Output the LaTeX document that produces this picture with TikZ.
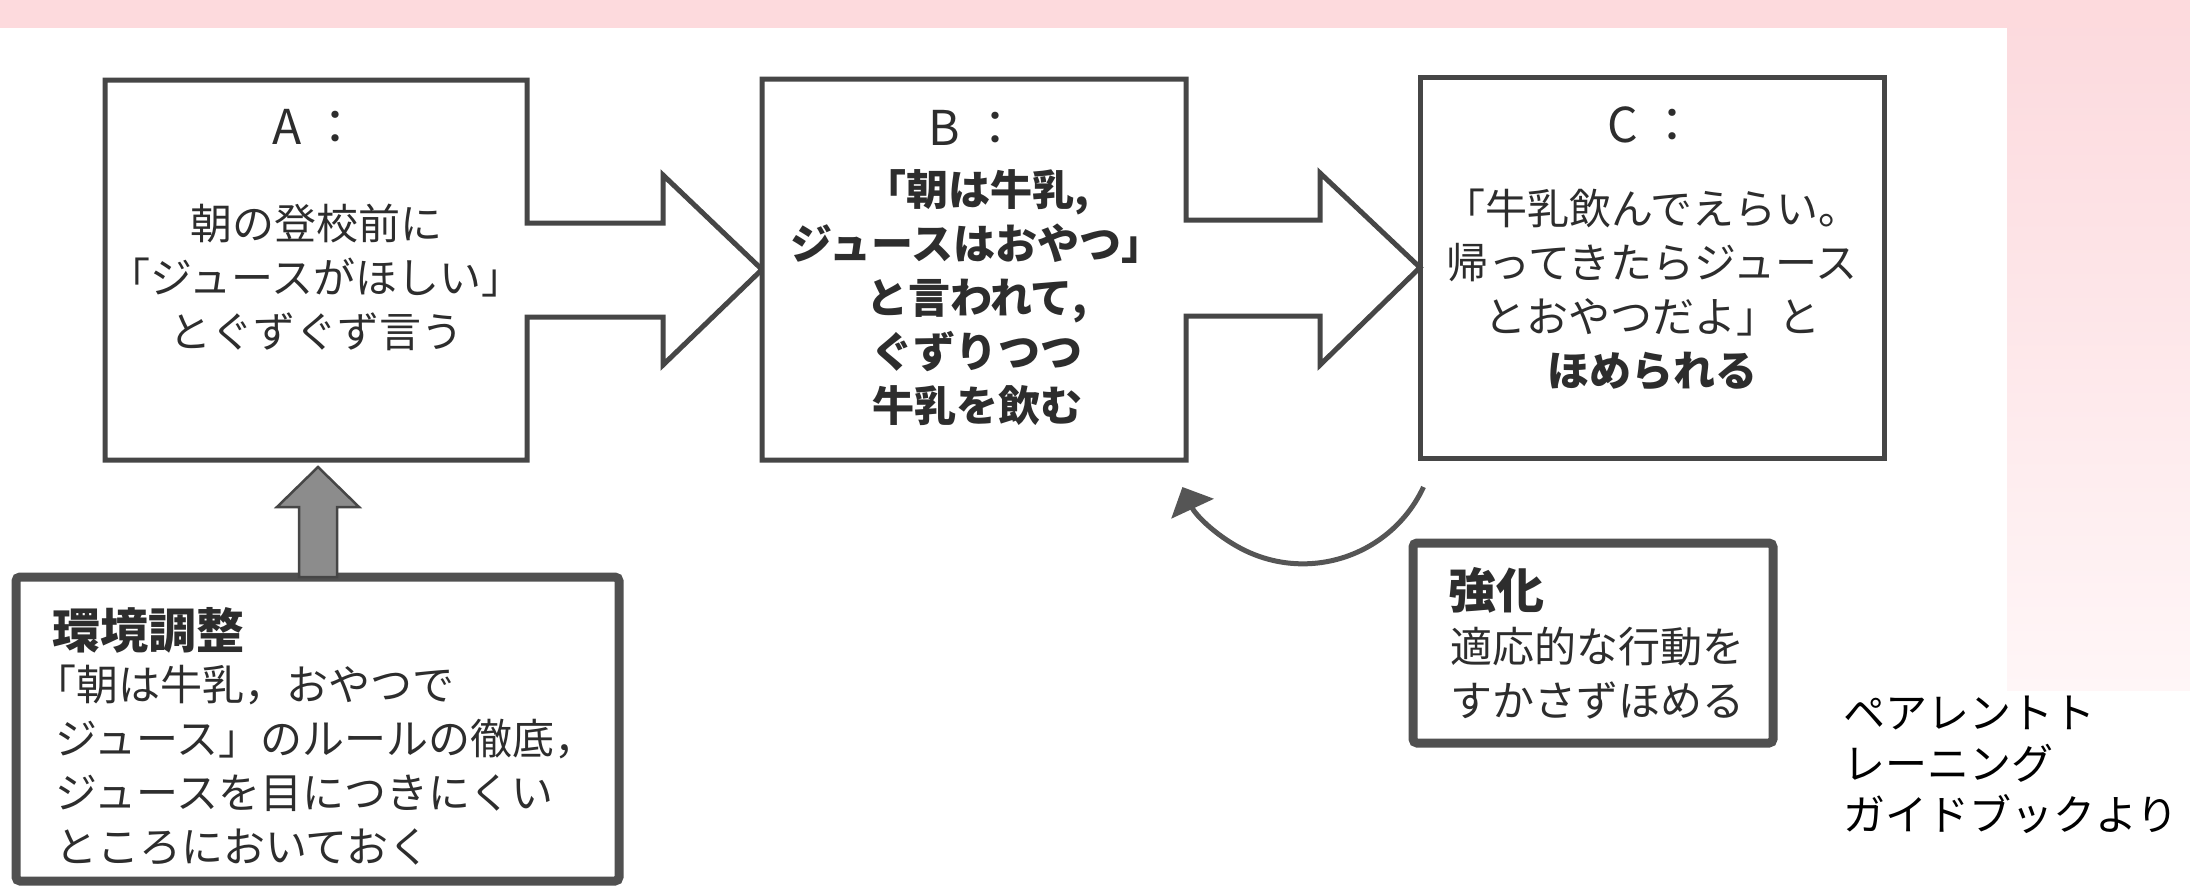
\documentclass[tikz,border=0pt]{standalone}
\usepackage{fontspec}
\setmainfont{Noto Sans CJK JP}
\usetikzlibrary{arrows.meta,calc}
\definecolor{pinktop}{RGB}{253,218,221}
\definecolor{pinkside}{RGB}{252,217,221}
\definecolor{pinkfade}{RGB}{255,246,247}
\definecolor{boxgray}{RGB}{70,70,70}
\definecolor{thickgray}{RGB}{80,80,80}
\definecolor{inkgray}{RGB}{45,45,45}
\definecolor{arrowfill}{RGB}{140,140,140}
\definecolor{curvegray}{RGB}{85,85,85}
\newcommand{\jpbody}{\fontsize{42pt}{54pt}\selectfont}
\newcommand{\jptitle}{\fontsize{48pt}{54pt}\selectfont}
\newcommand{\jphead}{\fontsize{48pt}{54pt}\selectfont\bfseries}
\newcommand{\jpsmall}{\fontsize{42pt}{51pt}\selectfont}
\tikzset{
  boxnode/.style={inner sep=0pt, outer sep=0pt},
  outline/.style={draw=boxgray, line width=5pt, fill=white, line join=miter},
  thickbox/.style={draw=thickgray, line width=9pt, fill=white, rounded corners=4pt, inner sep=0pt, outer sep=0pt},
  titletext/.style={font=\jptitle, text=inkgray, inner sep=0pt},
  bodytext/.style={font=\jpbody, text=inkgray, align=center, inner sep=0pt},
  lefttext/.style={font=\jpbody, text=inkgray, align=left, inner sep=0pt, anchor=west},
  headtext/.style={font=\jphead, text=inkgray, inner sep=0pt, anchor=west},
  grayarrow/.style={draw=boxgray, line width=2.5pt, fill=arrowfill, line join=miter},
  curvearrow/.style={draw=curvegray, line width=5pt, -{Triangle[width=46pt,length=24pt]}},
}
\begin{document}
\begin{tikzpicture}[x=1pt,y=-1pt]
\useasboundingbox (0,0) rectangle (2190,887);
% background
\fill[white] (0,0) rectangle (2190,887);
\shade[top color=pinkside, bottom color=pinkfade] (2007,0) rectangle (2190,690);
\fill[pinktop] (0,0) rectangle (2190,28);

% box nodes
\node[boxnode, minimum width=422pt, minimum height=380pt] (A) at (316,270) {};
\node[boxnode, minimum width=424pt, minimum height=381pt] (B) at (974,269.5) {};
\node[boxnode, minimum width=464pt, minimum height=381pt, draw=boxgray, line width=5pt, fill=white] (C) at (1652,267.5) {};

% box A with block arrow to B
\draw[outline] (A.east |- 0,317) -- (A.south east) -- (A.south west) -- (A.north west)
  -- (A.north east) -- (A.east |- 0,223) -- (663,223) -- (663,175) -- (B.west)
  -- (663,365) -- (663,317) -- cycle;
% box B with block arrow to C
\draw[outline] (B.east |- 0,316) -- (B.south east) -- (B.south west) -- (B.north west)
  -- (B.north east) -- (B.east |- 0,220) -- (1320,220) -- (1320,173) -- (C.west)
  -- (1320,365) -- (1320,316) -- cycle;

% texts in A, B, C
\node[titletext] (At) at (316,127) {A\hspace{0.22em}：};
\node[bodytext] (Ab) at (316,277) {朝の登校前に\\「ジュースがほしい」\\とぐずぐず言う};
\node[titletext] (Bt) at (974,128) {B\hspace{0.22em}：};
\node[bodytext, font=\jpbody\bfseries] (Bb) at (977,298) {「朝は牛乳,\\ジュースはおやつ」\\と言われて,\\ぐずりつつ\\牛乳を飲む};
\node[titletext] (Ct) at (1652,125) {C\hspace{0.22em}：};
\node[bodytext] (Cb) at (1652,290) {「牛乳飲んでえらい。\\帰ってきたらジュース\\とおやつだよ」と\\\textbf{ほめられる}};

% environment box
\node[thickbox, minimum width=603pt, minimum height=304pt] (E) at (317.5,729) {};
\node[headtext] (Eh) at (52,630) {環境調整};
\node[lefttext] (Eb) at (55,765) {\hspace*{-0.5em}「朝は牛乳，おやつで\\ジュース」のルールの徹底，\\ジュースを目につきにくい\\ところにおいておく};

% gray up arrow from E to A
\coordinate (ua0) at (E.north -| 318,0);
\coordinate (ua1) at (A.south -| 318,0);
\draw[grayarrow] ($(ua0)+(-19,0)$) -- ($(ua0)+(-19,-70)$) -- ($(ua0)+(-41,-70)$)
  -- ($(ua1)+(0,7)$) -- ($(ua0)+(41,-70)$) -- ($(ua0)+(19,-70)$) -- ($(ua0)+(19,0)$) -- cycle;

% reinforcement box
\node[thickbox, minimum width=360pt, minimum height=200pt] (R) at (1593,643) {};
\node[headtext] (Rh) at (1448,590) {強化};
\node[lefttext] (Rb) at (1450,673) {適応的な行動を\\すかさずほめる};

% curved arrow from C back to B
\coordinate (fbs) at (1423.5,487);
\draw[curvearrow] (fbs) arc[start angle=25, end angle=155, radius=133];

% source note
\node[font=\jpsmall, text=black, align=left, inner sep=0pt, anchor=west] (src) at (1843,765) {ペアレントト\\レーニング\\ガイドブックより};
\end{tikzpicture}
\end{document}
